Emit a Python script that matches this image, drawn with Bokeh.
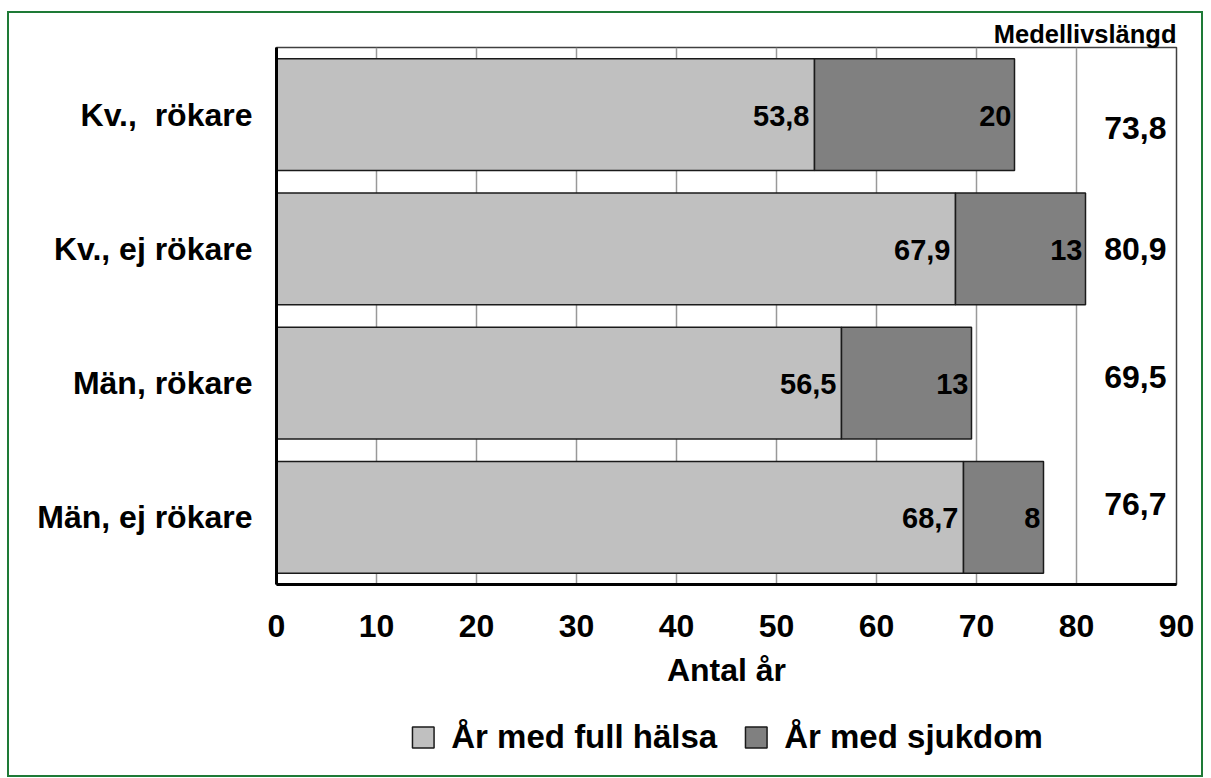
from bokeh.plotting import figure
from bokeh.layouts import column
from bokeh.models import (Range1d, FactorRange, FixedTicker, Legend, LegendItem,
                          ColumnDataSource)
from bokeh.core.properties import value
from bokeh.embed import file_html
from bokeh.resources import INLINE

# ---- data ----
categories = ["Kv., \u00a0rökare", "Kv., ej rökare", "Män, rökare", "Män, ej rökare"]
healthy_years = [53.8, 67.9, 56.5, 68.7]
sick_years = [20, 13, 13, 8]
life_expectancy = [73.8, 80.9, 69.5, 76.7]
x_ticks = [0, 10, 20, 30, 40, 50, 60, 70, 80, 90]
series_names = ["År med full hälsa", "År med sjukdom"]
legend_title = "Medellivslängd"
x_title = "Antal år"

# ---- style ----
FONT = "Liberation Sans"
LIGHT = "#c0c0c0"
DARK = "#808080"
EDGE = "#1a1a1a"
total_y_offsets = [13, 0, -6, -13]


def fmt(v):
    return ("%g" % v).replace(".", ",")


src = ColumnDataSource(dict(
    cat=categories,
    healthy=healthy_years,
    sick=sick_years,
    total=life_expectancy,
    healthy_lbl=[fmt(v) for v in healthy_years],
    sick_lbl=[fmt(v) for v in sick_years],
    total_lbl=[fmt(v) for v in life_expectancy],
    tot_off=total_y_offsets,
))

p = figure(
    width=1192, height=686,
    x_range=Range1d(0, 90),
    y_range=FactorRange(factors=list(reversed(categories)), range_padding=0),
    output_backend="svg", toolbar_location=None,
    min_border_left=267, min_border_right=25, min_border_top=34, min_border_bottom=115,
    title=legend_title,
)

p.title.align = "right"
p.title.text_font = FONT
p.title.text_font_style = "bold"
p.title.text_font_size = "25.5px"
p.title.text_color = "black"
p.title.standoff = 0

p.outline_line_color = "#404040"
p.outline_line_width = 1.5
p.background_fill_color = "white"
p.border_fill_color = "white"

rs = p.hbar_stack(["healthy", "sick"], y="cat", height=0.834, source=src,
                  fill_color=[LIGHT, DARK], line_color=EDGE, line_width=1.5)

# value labels
p.text(x="healthy", y="cat", text="healthy_lbl", source=src,
       text_align="right", text_baseline="middle", x_offset=-5, y_offset=1,
       text_font=value(FONT), text_font_style="bold", text_font_size="29px",
       text_color="black")
p.text(x="total", y="cat", text="sick_lbl", source=src,
       text_align="right", text_baseline="middle", x_offset=-3, y_offset=1,
       text_font=value(FONT), text_font_style="bold", text_font_size="29px",
       text_color="black")
# life expectancy totals at right side
p.text(x=89, y="cat", text="total_lbl", source=src,
       text_align="right", text_baseline="middle", y_offset="tot_off",
       text_font=value(FONT), text_font_style="bold", text_font_size="32px",
       text_color="black")

# axes
xa = p.xaxis[0]
xa.ticker = FixedTicker(ticks=x_ticks)
xa.axis_label = x_title
xa.axis_label_text_font = FONT
xa.axis_label_text_font_style = "bold"
xa.axis_label_text_font_size = "32px"
xa.axis_label_text_color = "black"
xa.axis_label_standoff = 12
xa.major_label_text_font = FONT
xa.major_label_text_font_style = "bold"
xa.major_label_text_font_size = "32px"
xa.major_label_text_color = "black"
xa.major_label_standoff = 30
xa.major_tick_in = 0
xa.major_tick_out = 0
xa.minor_tick_line_color = None
xa.axis_line_width = 3
xa.axis_line_color = "black"

ya = p.yaxis[0]
ya.major_label_text_font = FONT
ya.major_label_text_font_style = "bold"
ya.major_label_text_font_size = "32px"
ya.major_label_text_color = "black"
ya.major_label_standoff = 24
ya.major_tick_in = 0
ya.major_tick_out = 0
ya.axis_line_width = 3
ya.axis_line_color = "black"

p.xgrid.ticker = FixedTicker(ticks=x_ticks)
p.xgrid.grid_line_color = "#999999"
p.xgrid.grid_line_width = 1.5
p.ygrid.grid_line_color = None

# ---- legend strip (separate figure so it is not clipped by the plot frame) ----
pl = figure(width=1192, height=76, x_range=Range1d(0, 90),
            y_range=FactorRange(factors=list(reversed(categories)), range_padding=0),
            output_backend="svg", toolbar_location=None,
            min_border_left=267, min_border_right=25, min_border_top=0, min_border_bottom=0)
pl.axis.visible = False
pl.grid.visible = False
pl.outline_line_color = None
pl.background_fill_color = "white"
pl.border_fill_color = "white"
ks = pl.hbar_stack(["healthy", "sick"], y="cat", height=0.834, source=src,
                   fill_color=[LIGHT, DARK], line_color=EDGE, line_width=1.5)
for k in ks:
    k.visible = False

legend = Legend(items=[LegendItem(label=series_names[0], renderers=[ks[0]]),
                       LegendItem(label=series_names[1], renderers=[ks[1]])],
                orientation="horizontal", location="center")
legend.label_text_font = FONT
legend.label_text_font_style = "bold"
legend.label_text_font_size = "33px"
legend.label_text_color = "black"
legend.glyph_width = 27
legend.glyph_height = 26
legend.label_standoff = 15
legend.spacing = 25
legend.border_line_color = None
legend.background_fill_alpha = 0
legend.inactive_fill_alpha = 0
legend.margin = 0
legend.padding = 6
pl.add_layout(legend, "center")

layout = column(p, pl, spacing=0)
layout.styles = {"border": "2px solid #1e7a36", "margin-left": "7px", "margin-top": "11px"}

open("out.html", "w").write(file_html(layout, INLINE))
